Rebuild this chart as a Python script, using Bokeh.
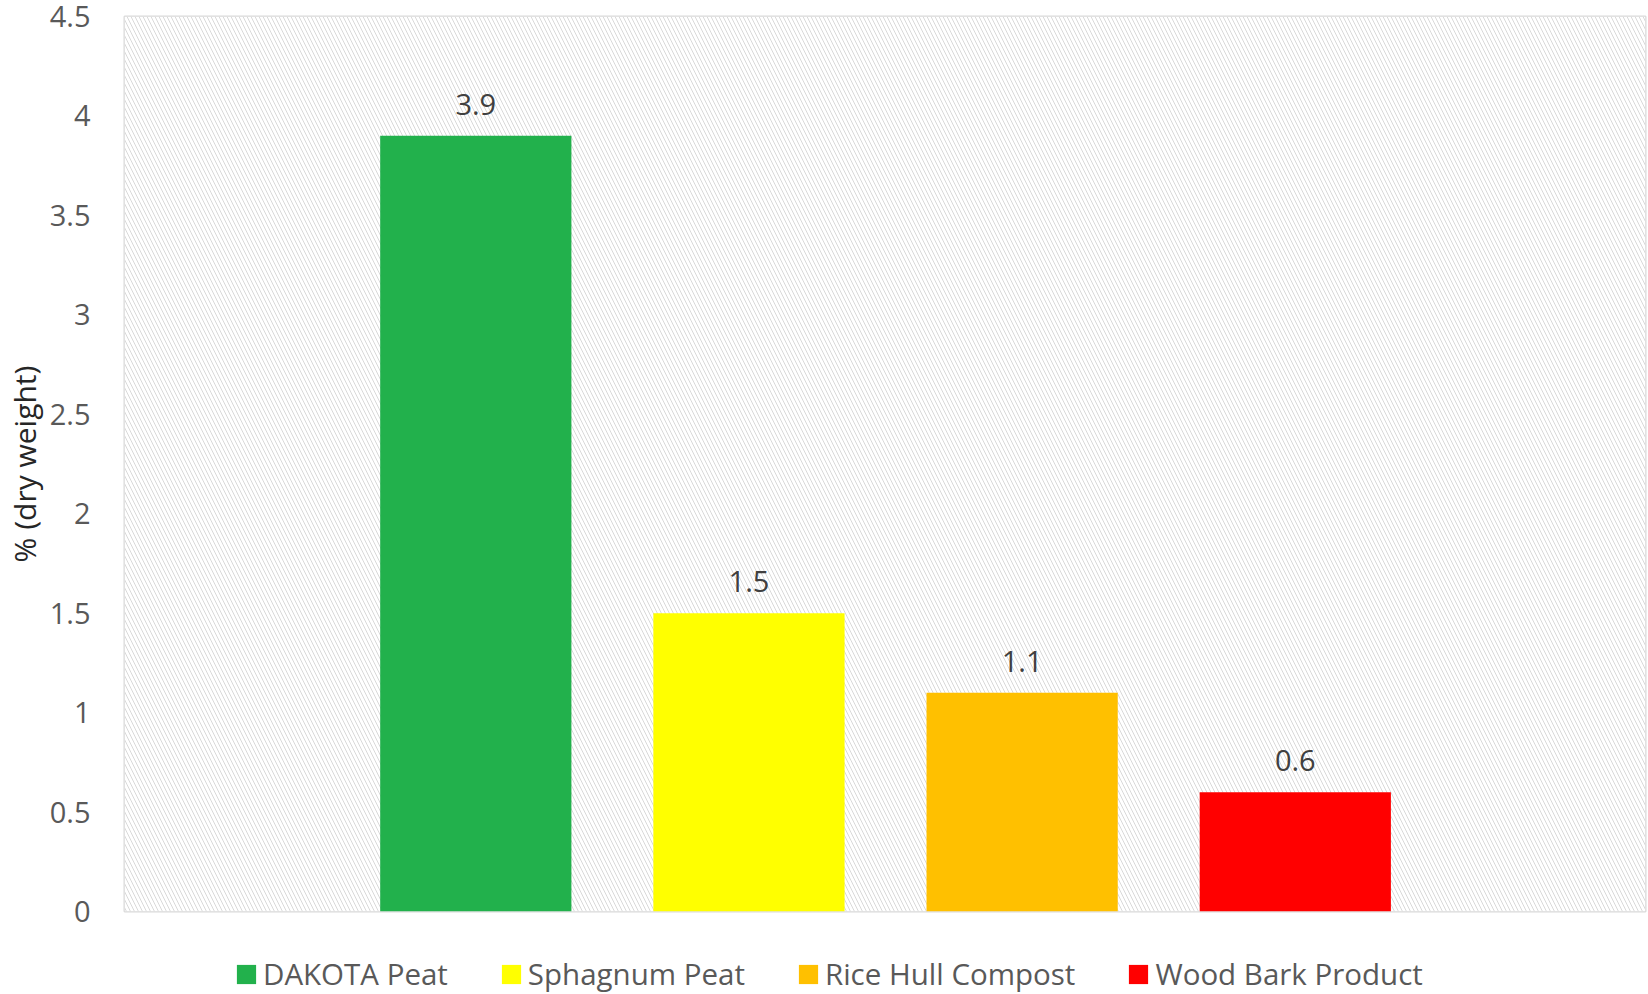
from bokeh.plotting import figure
from bokeh.layouts import column
from bokeh.models import (ColumnDataSource, LabelSet, BoxAnnotation, Legend, LegendItem,
                          Range1d, FixedTicker)
from bokeh.core.properties import value
from bokeh.embed import file_html
from bokeh.resources import INLINE

categories = ["DAKOTA Peat", "Sphagnum Peat", "Rice Hull Compost", "Wood Bark Product"]
values = [3.9, 1.5, 1.1, 0.6]
value_labels = ["3.9", "1.5", "1.1", "0.6"]
colors = ["#22B14C", "#FFFF00", "#FFC000", "#FF0000"]
positions = [1, 2, 3, 4]
y_ticks = [0, 0.5, 1, 1.5, 2, 2.5, 3, 3.5, 4, 4.5]
y_tick_labels = ["0", "0.5", "1", "1.5", "2", "2.5", "3", "3.5", "4", "4.5"]
y_label = "% (dry weight)"

FONT = "Open Sans"

src = ColumnDataSource(dict(x=positions, top=values, color=colors, name=categories, lab=value_labels))

p = figure(width=1648, height=937, output_backend="svg", toolbar_location=None,
           x_range=Range1d(-0.286, 5.282), y_range=Range1d(0, 4.5),
           min_border_left=124, min_border_top=16, min_border_bottom=26, min_border_right=3)

p.background_fill_color = "white"
p.border_fill_color = "white"
p.outline_line_color = "#d9d9d9"
p.outline_line_width = 2

# hatched plot-area background
bg = BoxAnnotation(fill_color="white", fill_alpha=1,
                   hatch_pattern="\\", hatch_color="#d9d9d9", hatch_scale=8, hatch_weight=1,
                   line_color=None, level="underlay")
p.add_layout(bg)

p.xgrid.visible = False
p.ygrid.ticker = FixedTicker(ticks=y_ticks)
p.ygrid.grid_line_color = "#d9d9d9"
p.ygrid.grid_line_width = 2
p.ygrid.level = "underlay"

r = p.vbar(x="x", top="top", width=0.7, color="color", source=src, line_color=None)

labels = LabelSet(x="x", y="top", text="lab", source=src, text_align="center",
                  text_baseline="alphabetic", y_offset=21, text_font_size="29px",
                  text_color="#404040", text_font=value(FONT))
p.add_layout(labels)

p.xaxis.visible = False
ax = p.yaxis[0]
ax.ticker = FixedTicker(ticks=y_ticks)
ax.major_label_overrides = {t: l for t, l in zip(y_ticks, y_tick_labels)}
ax.major_label_text_font = FONT
ax.major_label_text_font_size = "29px"
ax.major_label_text_color = "#595959"
ax.major_label_standoff = 34
ax.major_tick_out = 0
ax.major_tick_in = 0
ax.minor_tick_out = 0
ax.minor_tick_in = 0
ax.major_tick_line_color = None
ax.minor_tick_line_color = None
ax.axis_line_color = None
ax.axis_label = y_label
ax.axis_label_text_font = FONT
ax.axis_label_text_font_size = "30px"
ax.axis_label_text_font_style = "normal"
ax.axis_label_text_color = "#262626"
ax.axis_label_standoff = 2

# legend strip below the chart (frames of a column are aligned, so x is relative to the plot frame)
lf = figure(width=1648, height=57, output_backend="svg", toolbar_location=None,
            x_axis_type=None, y_axis_type=None, min_border=0,
            x_range=Range1d(100, 101), y_range=Range1d(100, 101))
lf.outline_line_color = None
lf.xgrid.visible = False
lf.ygrid.visible = False
lr = lf.vbar(x="x", top="top", width=0.7, color="color", source=src, line_color=None)

legend = Legend(items=[LegendItem(label=c, renderers=[lr], index=i) for i, c in enumerate(categories)],
                orientation="horizontal", location=(110, 0),
                glyph_width=24, glyph_height=24, label_standoff=5, spacing=51,
                padding=0, margin=0, border_line_color=None, background_fill_alpha=0,
                label_text_font=FONT, label_text_font_size="29.5px", label_text_color="#595959")
lf.add_layout(legend, "center")

layout = column(p, lf, spacing=0)
open("out.html", "w").write(file_html(layout, INLINE))
